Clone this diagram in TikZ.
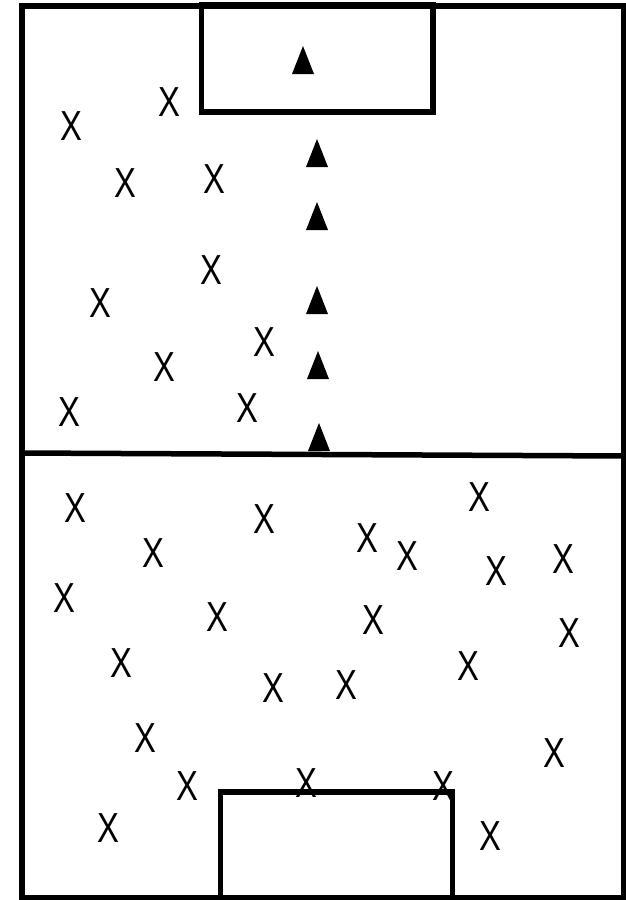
\documentclass[tikz,border=0pt]{standalone}
\usepackage{fontspec}
\newfontfamily\pitchfont[FakeStretch=0.78]{Liberation Sans}
\usetikzlibrary{positioning}

\begin{document}
\begin{tikzpicture}[
    x=1pt, y=-1pt,
    pitchline/.style={draw, line width=5.5pt},
    player/.style={inner sep=0pt, font=\pitchfont\fontsize{42}{42}\selectfont},
    cone/.style={fill=black}
]
\useasboundingbox (0,0) rectangle (626,900);
% pitch outline, halfway line and the two boxes
\draw[pitchline] (22,6) rectangle (624,898);
\draw[pitchline] (22,453) -- (624,456);
\draw[pitchline] (201.5,5) rectangle (433,112);
\draw[pitchline] (220.5,792) rectangle (452.5,900);
% cones
\foreach \x/\y in {303/60, 317/153, 317/216, 317/300, 318/365, 319/437}
    \fill[cone] (\x-11,\y+14) -- (\x+11,\y+14) -- (\x,\y-14) -- cycle;
% players, top half
\foreach \x/\y [count=\i] in {71/126, 169/102, 125/183, 214/179, 211/270,
        100/303, 264/342, 164/367, 69/412, 247/408}
    \node[player] (t\i) at (\x,\y) {X};
% players, bottom half
\foreach \x/\y [count=\i] in {75/508, 264/519, 479/497, 153/553, 367/538,
        407/556, 496/571, 563/559, 64/598, 217/617, 373/620, 569/633,
        121/663, 468/666, 273/688, 346/685, 145/738, 554/753, 187/786,
        306/783, 443/786, 108/828, 490/836}
    \node[player] (b\i) at (\x,\y) {X};
\end{tikzpicture}
\end{document}
